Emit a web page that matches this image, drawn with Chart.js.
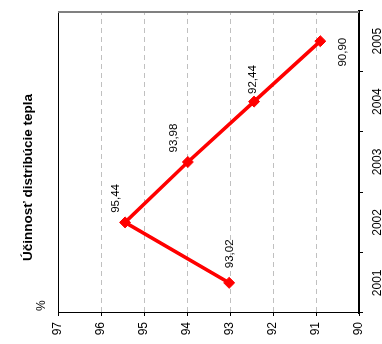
<!DOCTYPE html>
<html>
<head>
<meta charset="utf-8">
<script src="https://cdn.jsdelivr.net/npm/chart.js@4.4.1/dist/chart.umd.min.js"></script>
<style>
  html, body { margin: 0; padding: 0; background: #fff; overflow: hidden; }
  /* chart is drawn upright, then turned a quarter left like the original */
  #wrap {
    position: absolute; left: 0; top: 0;
    width: 344px; height: 382px;
    transform-origin: 0 0;
    transform: translate(0, 344px) rotate(-90deg);
  }
</style>
</head>
<body>
<div id="wrap"><canvas id="chart" width="344" height="382"></canvas></div>
<script>
const years = ["2001", "2002", "2003", "2004", "2005"];
const efficiency = [93.02, 95.44, 93.98, 92.44, 90.90];
const valueMin = 90;
const valueMax = 97;
const title = "Účinnosť distribúcie tepla";
const unit = "%";

const font = "Arial, 'Liberation Sans', sans-serif";

// label offsets from each point (x, y in upright chart)
const labelShift = [[29, 1], [24, -9], [24, -14], [22, -1], [-11, 23]];

const frame = {
  id: "frame",
  beforeDatasetsDraw(chart) {
    const { ctx, chartArea: a } = chart;
    ctx.save();
    ctx.strokeStyle = "#000";
    ctx.lineWidth = 1;
    ctx.beginPath();
    ctx.moveTo(a.left, a.top + 0.5);
    ctx.lineTo(a.right, a.top + 0.5);
    ctx.stroke();
    ctx.strokeStyle = "#808080";
    ctx.lineWidth = 2;
    ctx.beginPath();
    ctx.moveTo(a.right - 1, a.top);
    ctx.lineTo(a.right - 1, a.bottom);
    ctx.stroke();
    ctx.fillStyle = "#000";
    ctx.font = "12px " + font;
    ctx.textAlign = "left";
    ctx.textBaseline = "middle";
    ctx.fillText(unit, a.left + 2, a.top - 16);
    ctx.restore();
  },
  afterDatasetsDraw(chart) {
    const { ctx } = chart;
    const pts = chart.getDatasetMeta(0).data;
    ctx.save();
    ctx.fillStyle = "#000";
    ctx.font = "11.5px " + font;
    ctx.textAlign = "center";
    ctx.textBaseline = "middle";
    pts.forEach((p, i) => {
      const txt = efficiency[i].toFixed(2).replace(".", ",");
      ctx.fillText(txt, p.x + labelShift[i][0], p.y + labelShift[i][1]);
    });
    ctx.restore();
  }
};

new Chart(document.getElementById("chart"), {
  type: "line",
  data: {
    labels: years,
    datasets: [{
      data: efficiency,
      borderColor: "#ff0000",
      backgroundColor: "#ff0000",
      borderWidth: 3.6,
      tension: 0,
      pointStyle: "rectRot",
      pointRadius: 5.5,
      pointBorderWidth: 1
    }]
  },
  options: {
    responsive: false,
    animation: false,
    layout: { padding: { right: 11 } },
    plugins: {
      legend: { display: false },
      tooltip: { enabled: false },
      title: {
        display: true,
        text: title,
        color: "#000",
        font: { family: font, size: 13.5, weight: "bold" },
        padding: { top: 20, bottom: 21.8 }
      }
    },
    scales: {
      x: {
        offset: true,
        grid: { offset: true, drawOnChartArea: false, tickLength: 4, color: "#000" },
        border: { color: "#000", width: 2 },
        ticks: { color: "#000", font: { family: font, size: 12 }, padding: 7, maxRotation: 0 },
        afterFit(s) { s.height = 23; }
      },
      y: {
        min: valueMin,
        max: valueMax,
        ticks: { stepSize: 1, color: "#000", font: { family: font, size: 12 }, padding: 6 },
        grid: { color: "#c0c0c0", tickColor: "#000", tickLength: 3 },
        border: { color: "#000", width: 1, dash: (c) => (c.tick ? [5, 4] : []) },
        afterFit(s) { s.width = 31; }
      }
    }
  },
  plugins: [frame]
});
</script>
</body>
</html>
